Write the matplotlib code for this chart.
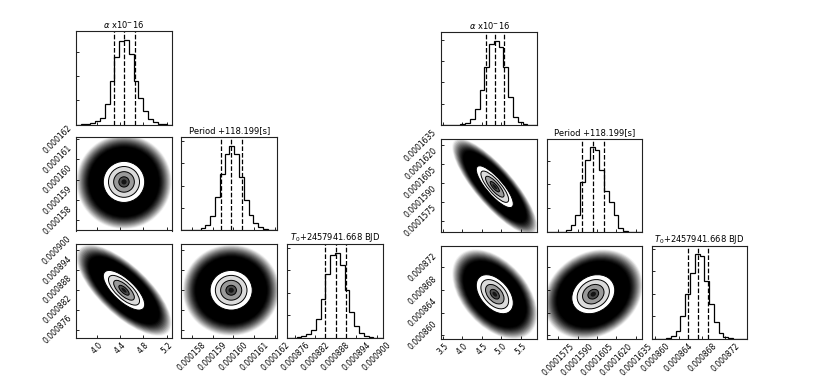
import numpy as np
import matplotlib
matplotlib.use("Agg")
import matplotlib.pyplot as plt
from matplotlib.patches import Circle
from matplotlib.transforms import Affine2D
from matplotlib.ticker import MaxNLocator

titles = [r"$\alpha$ x10$^{-}$16", "Period +118.199[s]", r"$T_0$+2457941.668 BJD"]

# ---- left corner plot ----
left_ranges = [(3.645, 5.291), (0.0001575, 0.0001621), (0.0008736, 0.0009019)]
left_quants = [(4.297, 4.468, 4.652),
               (0.00015939, 0.00015989, 0.00016040),
               (0.0008849, 0.0008879, 0.0008909)]
left_hist_alpha = [0, 110, 220, 560, 1120, 2230, 6690, 14500, 22300, 27650,
                   28200, 23400, 14500, 8920, 4460, 1670, 780, 330, 110, 0]
left_hist_period = [0, 0, 120, 350, 940, 2110, 5050, 12090, 20310, 27350,
                    30300, 27350, 19140, 10920, 5640, 2700, 1290, 470, 120, 0]
left_hist_t0 = [0, 0, 120, 360, 1310, 2740, 6440, 13840, 22790, 29350,
                30300, 25770, 16820, 9070, 3940, 1550, 360, 120, 0, 0]
left_corr = {(1, 0): 0.0, (2, 0): -0.72, (2, 1): 0.0}
left_ticks = [[4.0, 4.4, 4.8, 5.2],
              [0.000158, 0.000159, 0.000160, 0.000161, 0.000162],
              [0.000876, 0.000882, 0.000888, 0.000894, 0.000900]]
left_ticklabels = [["4.0", "4.4", "4.8", "5.2"],
                   ["0.000158", "0.000159", "0.000160", "0.000161", "0.000162"],
                   ["0.000876", "0.000882", "0.000888", "0.000894", "0.000900"]]

# ---- right corner plot ----
right_ranges = [(3.464, 5.913), (0.00015661, 0.00016400), (0.00085935, 0.00087575)]
right_quants = [(4.597, 4.834, 5.071),
                (0.00015936, 0.00016021, 0.00016102),
                (0.00086553, 0.00086725, 0.00086897)]
right_hist_alpha = [0, 0, 0, 120, 370, 990, 2480, 6200, 13380, 21690,
                    30360, 31600, 29120, 21690, 10530, 3100, 1240, 370, 120, 0]
right_hist_period = [0, 0, 0, 110, 670, 2340, 5680, 16710, 24060, 28400,
                     27400, 20720, 13700, 10030, 5680, 1340, 330, 110, 0, 0]
right_hist_t0 = [0, 120, 120, 350, 1170, 2930, 8210, 15840, 23460, 29900,
                 29330, 20530, 12320, 5870, 2110, 820, 230, 120, 0, 0]
right_corr = {(1, 0): -0.82, (2, 0): -0.45, (2, 1): 0.2}
right_ticks = [[3.5, 4.0, 4.5, 5.0, 5.5],
               [0.0001575, 0.0001590, 0.0001605, 0.0001620, 0.0001635],
               [0.000860, 0.000864, 0.000868, 0.000872]]
right_ticklabels = [["3.5", "4.0", "4.5", "5.0", "5.5"],
                    ["0.0001575", "0.0001590", "0.0001605", "0.0001620", "0.0001635"],
                    ["0.000860", "0.000864", "0.000868", "0.000872"]]

W, H = 831, 382
fig = plt.figure(figsize=(W / 100, H / 100), dpi=100)


def blob(ax, mx, sx, my, sy, r):
    # dense cloud + corner style contours, drawn as ellipses
    m = np.array([[sx, 0, mx], [r * sy, sy * np.sqrt(1 - r ** 2), my], [0, 0, 1]])
    tr = Affine2D(m) + ax.transData
    for k in np.linspace(4.6, 3.4, 14):
        g = ((k - 3.4) / 1.25) ** 1.4
        ax.add_patch(Circle((0, 0), k, transform=tr, fc=(g, g, g), ec="none", lw=0))
    fills = [(2.0, 1.0), (1.5, 0.86), (1.0, 0.6), (0.5, 0.3), (0.25, 0.08)]
    for k, g in fills:
        ax.add_patch(Circle((0, 0), k, transform=tr, fc=(g, g, g), ec="none", lw=0))
    for k in [2.0, 1.5, 1.0, 0.5]:
        ax.add_patch(Circle((0, 0), k, transform=tr, fill=False, ec="k", lw=0.7))


def style(ax):
    ax.tick_params(direction="in", length=2.5, width=0.6, labelsize=5.5,
                   top=False, right=False, pad=2)
    for s in ax.spines.values():
        s.set_linewidth(0.8)
        s.set_color("#222222")


def corner(col_x, row_top, w, h, hists, ranges, quants, corr, ticks, ticklabels):
    n = 3
    for i in range(n):
        for j in range(i + 1):
            ax = fig.add_axes([col_x[j] / W, 1 - (row_top[i] + h) / H, w / W, h / H])
            style(ax)
            if i == j:
                lo, hi = ranges[i]
                edges = np.linspace(lo, hi, len(hists[i]) + 1)
                centers = 0.5 * (edges[1:] + edges[:-1])
                ax.hist(centers, bins=edges, weights=hists[i], histtype="step",
                        color="k", lw=0.9)
                for q in quants[i]:
                    ax.axvline(q, ls="--", color="k", lw=0.9)
                ax.set_xlim(lo, hi)
                ax.set_ylim(0, 1.1 * max(hists[i]))
                ax.yaxis.set_major_locator(MaxNLocator(5, prune="lower"))
                ax.tick_params(labelleft=False)
                ax.set_title(titles[i], fontsize=6, pad=2.5)
            else:
                mx = quants[j][1]
                sx = (quants[j][2] - quants[j][0]) / 2
                my = quants[i][1]
                sy = (quants[i][2] - quants[i][0]) / 2
                blob(ax, mx, sx, my, sy, corr[(i, j)])
                ax.set_xlim(*ranges[j])
                ax.set_ylim(*ranges[i])
                if j == 0:
                    ax.set_yticks(ticks[i], ticklabels[i], rotation=45,
                                  va="center", ha="right")
                else:
                    ax.set_yticks(ticks[i])
                    ax.tick_params(labelleft=False)
            if i == n - 1:
                ax.set_xticks(ticks[j], ticklabels[j], rotation=45)
            else:
                ax.set_xticks(ticks[j])
                ax.tick_params(labelbottom=False)
            ax.set_xlim(*ranges[j])


corner([76, 181.3, 287], [31, 137, 244], 96, 93.5,
       [left_hist_alpha, left_hist_period, left_hist_t0],
       left_ranges, left_quants, left_corr, left_ticks, left_ticklabels)
corner([441.3, 546.7, 651.7], [32.3, 139, 246], 95.6, 93,
       [right_hist_alpha, right_hist_period, right_hist_t0],
       right_ranges, right_quants, right_corr, right_ticks, right_ticklabels)

fig.savefig("out.png", dpi=100)
